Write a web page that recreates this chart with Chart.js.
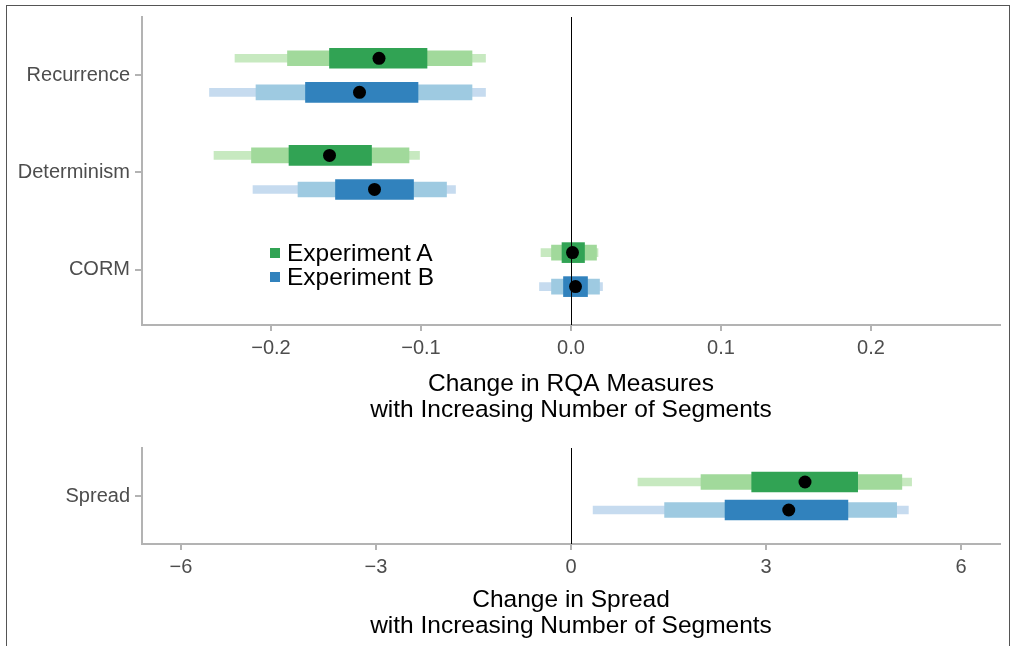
<!DOCTYPE html>
<html>
<head>
<meta charset="utf-8">
<script src="https://cdn.jsdelivr.net/npm/chart.js@4.4.0/dist/chart.umd.min.js"></script>
<style>
  body { margin: 0; background: #fff; width: 1013px; height: 646px; overflow: hidden; position: relative; font-family: "Liberation Sans", Arial, sans-serif; }
  #frame { position: absolute; left: 6px; top: 5px; width: 1004px; height: 660px; border: 1.5px solid #555; box-sizing: border-box; pointer-events: none; }
  #topChart { position: absolute; left: 0; top: 0; }
  #bottomChart { position: absolute; left: 0; top: 430px; }
  .legend { position: absolute; left: 270px; font-size: 24.5px; color: #000; line-height: 24px; }
  .legend div { position: relative; padding-left: 17px; height: 23.5px; }
  .legend span { position: absolute; left: 0; top: 7px; width: 10px; height: 10px; }
</style>
</head>
<body>
<canvas id="topChart" width="1013" height="430"></canvas>
<canvas id="bottomChart" width="1013" height="216"></canvas>
<div class="legend" style="top:241px">
  <div><span style="background:#31a354"></span>Experiment A</div>
  <div><span style="background:#3182bd"></span>Experiment B</div>
</div>
<div id="frame"></div>
<script>
// ---- data ----
const categories = ['Recurrence', 'Determinism', 'CORM'];
const rqaTicks = [-0.2, -0.1, 0, 0.1, 0.2];

// Experiment A: [low, high] for outer / middle / inner interval, plus median
const aOuter = [[-0.224, -0.057], [-0.238, -0.101], [-0.020, 0.018]];
const aMiddle = [[-0.189, -0.066], [-0.213, -0.108], [-0.013, 0.017]];
const aInner = [[-0.161, -0.096], [-0.188, -0.133], [-0.006, 0.009]];
const aMedian = [-0.128, -0.161, 0.001];

// Experiment B
const bOuter = [[-0.241, -0.057], [-0.212, -0.077], [-0.021, 0.021]];
const bMiddle = [[-0.210, -0.066], [-0.182, -0.083], [-0.013, 0.019]];
const bInner = [[-0.177, -0.102], [-0.157, -0.105], [-0.005, 0.011]];
const bMedian = [-0.141, -0.131, 0.003];

const spreadCategories = ['Spread'];
const spreadTicks = [-6, -3, 0, 3, 6];
const spreadAOuter = [[1.03, 5.24]];
const spreadAMiddle = [[2.00, 5.09]];
const spreadAInner = [[2.78, 4.41]];
const spreadAMedian = [3.60];
const spreadBOuter = [[0.34, 5.19]];
const spreadBMiddle = [[1.44, 5.01]];
const spreadBInner = [[2.37, 4.26]];
const spreadBMedian = [3.35];

const greens = ['#c7e9c0', '#a1d99b', '#31a354'];
const blues = ['#c6dbef', '#9ecae1', '#3182bd'];
const thickness = [8, 15, 20];

const minus = v => String(v).replace('-', '\u2212');

function intervalSets(levels, medians, colors, offset) {
  const n = medians.length;
  const sets = levels.map((lv, k) => ({
    type: 'bar',
    indexAxis: 'y',
    grouped: false,
    data: lv.map((r, i) => ({ x: r, y: n - i + offset })),
    backgroundColor: colors[k],
    barThickness: thickness[k],
    borderWidth: 0,
    borderSkipped: false,
    order: 3 - k
  }));
  sets.push({
    type: 'scatter',
    data: medians.map((m, i) => ({ x: m, y: n - i + offset })),
    pointRadius: 6.5,
    pointHoverRadius: 6.5,
    backgroundColor: '#000',
    borderWidth: 0,
    order: 0
  });
  return sets;
}

const zeroLine = {
  id: 'zeroLine',
  afterDatasetsDraw(chart) {
    const { ctx, chartArea, scales } = chart;
    const x = Math.round(scales.x.getPixelForValue(0)) + 0.5;
    ctx.save();
    ctx.strokeStyle = '#000';
    ctx.lineWidth = 1;
    ctx.beginPath();
    ctx.moveTo(x, chartArea.top);
    ctx.lineTo(x, chartArea.bottom);
    ctx.stroke();
    ctx.restore();
  }
};

function makeOptions(xr, xTicks, fmt, yr, cats, title, padTop, xHeight) {
  const axisGrey = '#b3b3b3';
  return {
    responsive: false,
    animation: false,
    layout: { padding: { top: padTop, right: 13, left: 0, bottom: 0 } },
    plugins: { legend: { display: false }, tooltip: { enabled: false } },
    scales: {
      x: {
        type: 'linear', min: -xr, max: xr, offset: false,
        afterBuildTicks: s => { s.ticks = xTicks.map(v => ({ value: v })); },
        afterFit: s => { s.height = xHeight; },
        ticks: { callback: fmt, color: '#4d4d4d', font: { size: 20 }, padding: 5, maxRotation: 0, autoSkip: false },
        grid: { drawOnChartArea: false, offset: false, color: axisGrey, lineWidth: 2, tickLength: 6 },
        border: { color: axisGrey, width: 2 },
        title: {
          display: true, text: title, color: '#000',
          font: { size: 24.5, lineHeight: 1.06 },
          padding: { top: 0, bottom: 7 }
        }
      },
      y: {
        type: 'linear', min: yr[0], max: yr[1], offset: false,
        afterBuildTicks: s => { s.ticks = cats.map((c, i) => ({ value: cats.length - i })); },
        afterFit: s => { s.width = 142; },
        ticks: { callback: v => cats[cats.length - v], color: '#4d4d4d', font: { size: 20 }, padding: 5, autoSkip: false },
        grid: { drawOnChartArea: false, offset: false, color: axisGrey, lineWidth: 2, tickLength: 7 },
        border: { color: axisGrey, width: 2 }
      }
    }
  };
}

new Chart(document.getElementById('topChart'), {
  type: 'scatter',
  data: {
    datasets: [
      ...intervalSets([aOuter, aMiddle, aInner], aMedian, greens, 0.175),
      ...intervalSets([bOuter, bMiddle, bInner], bMedian, blues, -0.175)
    ]
  },
  options: makeOptions(0.286, rqaTicks, v => minus(v.toFixed(1)), [0.43, 3.6], categories,
    ['Change in RQA Measures', 'with Increasing Number of Segments'], 14, 105),
  plugins: [zeroLine]
});

new Chart(document.getElementById('bottomChart'), {
  type: 'scatter',
  data: {
    datasets: [
      ...intervalSets([spreadAOuter, spreadAMiddle, spreadAInner], spreadAMedian, greens, 0.175),
      ...intervalSets([spreadBOuter, spreadBMiddle, spreadBInner], spreadBMedian, blues, -0.175)
    ]
  },
  options: makeOptions(6.6, spreadTicks, v => minus(v), [0.4, 1.6], spreadCategories,
    ['Change in Spread', 'with Increasing Number of Segments'], 18, 102),
  plugins: [zeroLine]
});
</script>
</body>
</html>
